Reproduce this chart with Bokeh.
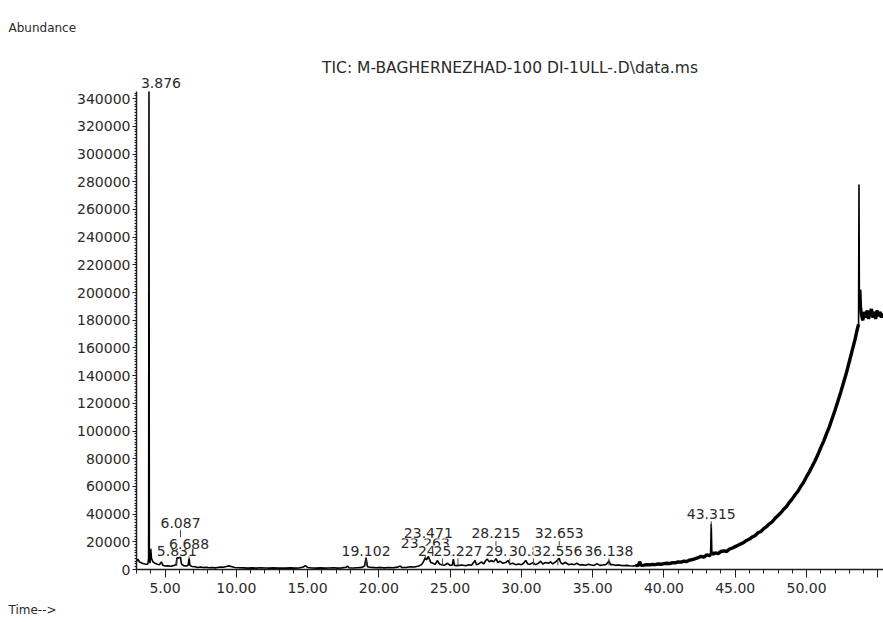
from bokeh.plotting import figure
from bokeh.models import Range1d, FixedTicker, PrintfTickFormatter, Label, Title
from bokeh.embed import file_html
from bokeh.resources import INLINE

# ---- chromatogram trace (retention time in min, abundance) ----
time_min = [
    3.00, 3.10, 3.20, 3.30, 3.40, 3.50, 3.60, 3.70, 3.80, 3.85, 3.876, 3.90, 3.95, 4.00, 4.05,
    4.15, 4.30, 4.45, 4.60, 4.75, 4.85, 5.00, 5.20, 5.40, 5.60, 5.78, 5.831, 5.88, 5.95, 6.02,
    6.087, 6.15, 6.30, 6.50, 6.62, 6.688, 6.75, 6.90, 7.10, 7.30, 7.50, 7.70, 7.90, 8.10, 8.30,
    8.50, 8.70, 8.90, 9.10, 9.30, 9.50, 9.70, 9.90, 10.2, 10.5, 10.8, 11.1, 11.4, 11.7, 12.0,
    12.3, 12.6, 12.9, 13.2, 13.5, 13.8, 14.1, 14.4, 14.7, 14.85, 15.0, 15.3, 15.6, 15.9, 16.2,
    16.5, 16.8, 17.1, 17.4, 17.7, 17.8, 17.9, 18.2, 18.5, 18.8, 19.0, 19.102, 19.2, 19.5, 19.8,
    20.1, 20.4, 20.7, 21.0, 21.3, 21.5, 21.6, 21.9, 22.2, 22.5, 22.8, 23.0, 23.15, 23.25, 23.35,
    23.471, 23.55, 23.65, 23.8, 23.95, 24.1, 24.25, 24.4, 24.6, 24.8, 25.0, 25.15, 25.227, 25.3, 25.5,
    25.8, 26.1, 26.3, 26.5, 26.75, 26.85, 27.0, 27.2, 27.35, 27.5, 27.6, 27.75, 27.9, 28.05, 28.215,
    28.35, 28.5, 28.7, 28.9, 29.05, 29.2, 29.4, 29.6, 29.8, 30.0, 30.15, 30.3, 30.45, 30.6, 30.8,
    31.0, 31.2, 31.35, 31.5, 31.7, 31.9, 32.05, 32.2, 32.4, 32.556, 32.653, 32.75, 32.9, 33.1, 33.3,
    33.5, 33.7, 33.9, 34.1, 34.3, 34.5, 34.7, 34.9, 35.1, 35.3, 35.5, 35.7, 35.9, 36.0, 36.138,
    36.25, 36.45, 36.6, 36.8, 37.0, 37.2, 37.4, 37.6, 37.8, 38.0, 38.2, 38.3, 38.4, 38.6, 38.8,
    39.0, 39.2, 39.4, 39.6, 39.8, 40.0, 40.2, 40.4, 40.6, 40.8, 41.0, 41.2, 41.4, 41.6, 41.8,
    42.0, 42.2, 42.4, 42.6, 42.8, 43.0, 43.2, 43.27, 43.315, 43.36, 43.45, 43.6, 43.8, 44.0, 44.2,
    44.4, 44.6, 44.8, 45.0, 45.2, 45.4, 45.6, 45.8, 46.0, 46.2, 46.4, 46.6, 46.8, 47.0, 47.2,
    47.4, 47.6, 47.8, 48.0, 48.2, 48.4, 48.6, 48.8, 49.0, 49.2, 49.4, 49.6, 49.8, 50.0, 50.2,
    50.4, 50.6, 50.8, 51.0, 51.2, 51.4, 51.6, 51.8, 52.0, 52.2, 52.4, 52.6, 52.8, 53.0, 53.2,
    53.4, 53.55, 53.65, 53.68, 53.71, 53.74, 53.78, 53.85, 53.95, 54.05, 54.15, 54.25, 54.35, 54.45, 54.55,
    54.65, 54.75, 54.85, 54.95, 55.05, 55.15, 55.25, 55.35,
]
abundance = [
    6000, 7500, 5500, 5000, 4500, 4200, 4000, 3800, 4000, 8000, 345000, 9000, 4500, 15000, 8000,
    5500, 4500, 3800, 3500, 5500, 3000, 2500, 2600, 2400, 2800, 3500, 8000, 8500, 8200, 8800,
    9000, 4000, 2800, 2500, 3000, 8000, 3000, 2200, 2000, 1500, 1800, 1400, 1600, 1300, 1500,
    1200, 1500, 1800, 1600, 2200, 2600, 2000, 1400, 1300, 1200, 1000, 1200, 1000, 1300, 1100,
    1000, 1200, 1000, 1100, 1000, 1200, 1000, 1100, 1800, 2800, 1500, 1100, 1000, 1200, 1000,
    1100, 1300, 1000, 1200, 1600, 2500, 1300, 1100, 1300, 1500, 2500, 8500, 2000, 1500, 1300,
    1500, 1200, 1400, 1300, 1700, 2500, 1500, 1400, 2000, 1800, 2500, 3500, 6000, 8500, 7000,
    9500, 7500, 5000, 4500, 3500, 6500, 4000, 3500, 3000, 4500, 3000, 3200, 7500, 3000, 2800,
    3200, 2700, 3500, 3000, 6500, 3500, 4000, 5500, 4000, 6500, 7500, 5500, 6500, 5500, 7800,
    5000, 6000, 4500, 5000, 6500, 4000, 4500, 3500, 4000, 3500, 4500, 6500, 4000, 3800, 5000,
    3500, 4500, 6000, 4000, 5000, 4500, 5500, 4000, 5500, 7000, 8200, 5000, 4000, 5200, 3500,
    4000, 3500, 4500, 3200, 3500, 3000, 3800, 3200, 3000, 4200, 3000, 3300, 3500, 4200, 6200,
    3500, 3500, 3000, 3300, 3000, 2800, 3000, 2700, 2500, 2800, 3000, 5500, 3000, 3200, 3500,
    3300, 3700, 3500, 4000, 3800, 4200, 4500, 4300, 5000, 4800, 5500, 5300, 6000, 5800, 6800,
    7200, 7800, 8500, 9500, 9000, 10500, 10000, 11000, 33000, 12500, 11000, 12000, 11500, 13000, 13500,
    13000, 14800, 15500, 16500, 17500, 18500, 19500, 21000, 22000, 23500, 24500, 26500, 27500, 29500, 31000,
    33000, 34500, 37000, 39000, 41000, 43500, 45500, 48500, 51000, 54000, 56500, 60000, 63000, 67000, 70500,
    74500, 78500, 83000, 88000, 92500, 98000, 103000, 109000, 115000, 121500, 128000, 135000, 142000, 150000, 158000,
    166000, 173000, 177000, 278000, 190000, 202000, 190000, 184000, 180000, 186000, 182000, 187000, 181000, 185000, 188000,
    182000, 186000, 181000, 187000, 183000, 186000, 182000, 185000,
]

# ---- peak annotations (drawing order matters: later labels hide earlier ones) ----
peak_label_text = ["3.876", "6.087", "5.831", "6.688", "19.102", "23.263", "23.471", "24.458",
                   "25.227", "28.215", "29.180", "30.843", "32.653", "32.556", "36.138", "43.315"]
peak_label_time = [3.876, 6.087, 5.831, 6.688, 19.102, 23.263, 23.471, 24.458,
                   25.55, 28.215, 29.180, 30.843, 32.653, 32.556, 36.138, 43.315]
peak_label_level = [351000, 33900, 13000, 18700, 13500, 18800, 26000, 13500,
                    13500, 26000, 13500, 13500, 26000, 13500, 13500, 40300]

title_text = "TIC: M-BAGHERNEZHAD-100 DI-1ULL-.D\\data.ms"
y_label_text = "Abundance"
x_label_text = "Time-->"

x_major = [5, 10, 15, 20, 25, 30, 35, 40, 45, 50, 55]
x_minor = list(range(3, 56))
y_major = list(range(0, 340001, 20000))
y_minor = list(range(0, 345001, 2000))

FONT = "DejaVu Sans"
INK = "#1e1e1e"
TXT = "#2a2a2a"

p = figure(width=883, height=622, output_backend="svg", toolbar_location=None,
           x_range=Range1d(3.0, 55.4), y_range=Range1d(0, 356000),
           min_border_left=136, min_border_right=0, min_border_top=75, min_border_bottom=53)
p.outline_line_color = None
p.grid.visible = False
p.background_fill_color = "white"

# outermost title: "Abundance" ; title next to the frame: the TIC caption
p.title.text = y_label_text
p.title.align = "left"
p.title.offset = -128
p.title.text_font = FONT
p.title.text_font_size = "12px"
p.title.text_font_style = "normal"
p.title.text_color = TXT
p.title.vertical_align = "top"
p.title.standoff = 40

p.add_layout(Title(text=title_text, align="center", offset=6, text_font=FONT,
                   text_font_size="15.5px", text_font_style="normal", text_color=TXT,
                   standoff=0), "above")
p.add_layout(Title(text=x_label_text, align="left", offset=-128, text_font=FONT,
                   text_font_size="12px", text_font_style="normal", text_color=TXT,
                   standoff=11), "below")

# trace: thin everywhere, thicker noisy band on the rising baseline and plateau
p.line(time_min, abundance, line_color="black", line_width=1.6)
i_rise = time_min.index(38.0)
i_p43a = time_min.index(43.27)
i_p43b = time_min.index(43.36)
i_spike = time_min.index(53.65)
i_after = time_min.index(53.74)
for a, b in ((i_rise, i_p43a + 1), (i_p43b, i_spike + 1), (i_after, len(time_min))):
    p.line(time_min[a:b], abundance[a:b], line_color="black", line_width=3.4)

# small ticks under labels
p.segment(x0=peak_label_time, y0=[v - 5500 for v in peak_label_level],
          x1=peak_label_time, y1=[v - 10500 for v in peak_label_level],
          line_color="#444444", line_width=1)

for t, v, s in zip(peak_label_time, peak_label_level, peak_label_text):
    p.add_layout(Label(x=t, y=v, text=s, text_align="center", text_baseline="middle",
                       x_offset=(12 if v > 345000 else 0),
                       text_font=FONT, text_font_size="14px", text_color=TXT,
                       background_fill_color="white", background_fill_alpha=1.0, padding=0))

# axes
xa = p.xaxis[0]
xa.ticker = FixedTicker(ticks=x_major, minor_ticks=x_minor)
xa.formatter = PrintfTickFormatter(format="%.2f")
xa.major_label_overrides = {55: ""}
ya = p.yaxis[0]
ya.ticker = FixedTicker(ticks=y_major, minor_ticks=y_minor)
ya.formatter = PrintfTickFormatter(format="%d")
ya.bounds = (0, 345000)
for ax in (xa, ya):
    ax.axis_line_color = INK
    ax.axis_line_width = 1.5
    ax.major_tick_line_color = INK
    ax.minor_tick_line_color = INK
    ax.major_tick_in = 0
    ax.minor_tick_in = 0
    ax.major_label_text_font = FONT
    ax.major_label_text_font_size = "14px"
    ax.major_label_text_color = TXT
xa.major_tick_out = 8
xa.minor_tick_out = 4
xa.major_label_standoff = 5
ya.major_tick_out = 4
ya.minor_tick_out = 2
ya.major_label_standoff = 2

open("out.html", "w").write(file_html(p, INLINE))
